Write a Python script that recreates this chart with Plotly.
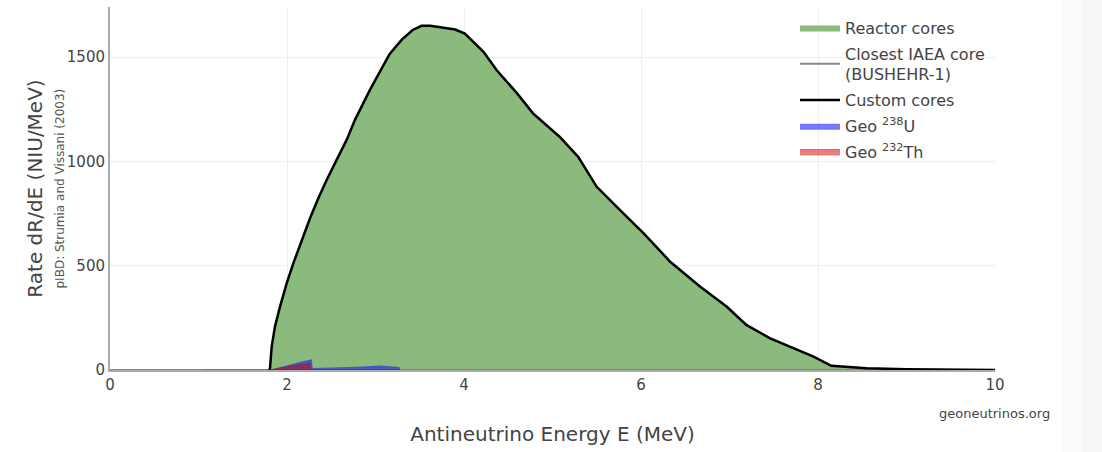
import plotly.graph_objects as go

# ---- data ----
energy = [1.80, 1.808, 1.827, 1.864, 1.921, 1.997, 2.072, 2.166, 2.26, 2.354, 2.448, 2.561,
          2.674, 2.768, 2.94, 3.16, 3.30, 3.42, 3.52, 3.62, 3.90, 4.01, 4.22, 4.37, 4.60,
          4.78, 5.08, 5.29, 5.50, 5.76, 6.03, 6.33, 6.67, 6.97, 7.19, 7.46, 7.68,
          7.95, 8.15, 8.55, 9.00, 9.50, 10.0]
reactor_rate = [0, 10, 112, 208, 304, 416, 512, 624, 727, 823, 911, 1007,
                1103, 1199, 1345, 1515, 1585, 1630, 1650, 1650, 1632, 1613, 1525, 1437, 1326,
                1230, 1118, 1022, 878, 767, 655, 519, 399, 303, 216, 152, 112,
                64, 20, 8, 4, 1, 0]

iaea_energy = [0, 10]
iaea_rate = [0, 0]

geo_u_energy = [1.80, 1.90, 2.00, 2.10, 2.20, 2.28, 2.29, 2.50, 2.80, 3.05, 3.20, 3.27, 3.28]
geo_u_rate = [0, 12, 24, 34, 44, 52, 10, 12, 16, 22, 18, 14, 0]

geo_th_energy = [1.05, 1.80, 1.90, 2.00, 2.10, 2.20, 2.26, 2.27]
geo_th_rate = [0, 0, 8, 16, 22, 28, 32, 0]

x_ticks = [0, 2, 4, 6, 8, 10]
y_ticks = [0, 500, 1000, 1500]

FONT = "DejaVu Sans, Verdana, sans-serif"
TXT = "#444"

fig = go.Figure()
fig.add_trace(go.Scatter(x=energy, y=reactor_rate, name="Reactor cores",
                         mode="lines", fill="tozeroy", legendgroup="a",
                         fillcolor="#8bbb7c", line=dict(width=0, color="#8bbb7c")))
fig.add_trace(go.Scatter(x=iaea_energy, y=iaea_rate, name="Closest IAEA core<br>(BUSHEHR-1)",
                         mode="lines", legendgroup="b", line=dict(width=2, color="#888")))
fig.add_trace(go.Scatter(x=energy, y=reactor_rate, name="Custom cores",
                         mode="lines", legendgroup="c", line=dict(width=2.5, color="black")))
fig.add_trace(go.Scatter(x=geo_u_energy, y=geo_u_rate, name="Geo <sup>238</sup>U",
                         mode="lines", fill="tozeroy", legendgroup="d",
                         fillcolor="rgba(0,0,255,0.53)", line=dict(width=0, color="rgba(0,0,255,0.53)")))
fig.add_trace(go.Scatter(x=geo_th_energy, y=geo_th_rate, name="Geo <sup>232</sup>Th",
                         mode="lines", fill="tozeroy", legendgroup="e",
                         fillcolor="rgba(210,0,0,0.5)", line=dict(width=1, color="rgba(210,0,0,0.5)")))

fig.update_layout(
    width=1102, height=452,
    margin=dict(l=110, r=107, t=7, b=82),
    paper_bgcolor="white", plot_bgcolor="white",
    font=dict(family=FONT, color=TXT, size=15),
    showlegend=True,
    legend=dict(x=0.774, y=0.99, xanchor="left", yanchor="top",
                font=dict(size=16, color=TXT, family=FONT),
                itemwidth=40, tracegroupgap=2, bgcolor="rgba(0,0,0,0)"),
    xaxis=dict(range=[0, 10], tickvals=x_ticks, showgrid=True, gridcolor="#eee",
               showline=True, linecolor="#aaa", linewidth=2, zeroline=False,
               tickfont=dict(size=15, color=TXT),
               title=dict(text="Antineutrino Energy E (MeV)", font=dict(size=20, color=TXT),
                          standoff=34)),
    yaxis=dict(range=[0, 1740], tickvals=y_ticks, showgrid=True, gridcolor="#eee",
               showline=True, linecolor="#aaa", linewidth=2, zeroline=False,
               tickfont=dict(size=15, color=TXT),
               title=dict(text="Rate dR/dE (NIU/MeV)",
                          font=dict(size=20, color=TXT), standoff=19)),
    annotations=[
        dict(text="geoneutrinos.org", xref="paper", yref="paper",
             x=1.0644, y=-0.119, xanchor="right", yanchor="middle",
             showarrow=False, font=dict(size=13, color=TXT, family=FONT)),
        dict(text="pIBD: Strumia and Vissani (2003)", xref="paper", yref="paper",
             x=-0.0565, y=0.5, xanchor="center", yanchor="middle", textangle=-90,
             showarrow=False, font=dict(size=12, color="#555", family=FONT)),
    ],
    shapes=[
        dict(type="rect", xref="paper", yref="paper", x0=1.0757, x1=1.125, y0=-0.25, y1=1.05,
             fillcolor="#fbfbfb", line=dict(width=0), layer="below"),
        dict(type="rect", xref="paper", yref="paper", x0=1.097, x1=1.125, y0=-0.25, y1=1.05,
             fillcolor="#f6f6f6", line=dict(width=0), layer="below"),
    ],
)

fig.write_html("out.html", config={"displayModeBar": False})
